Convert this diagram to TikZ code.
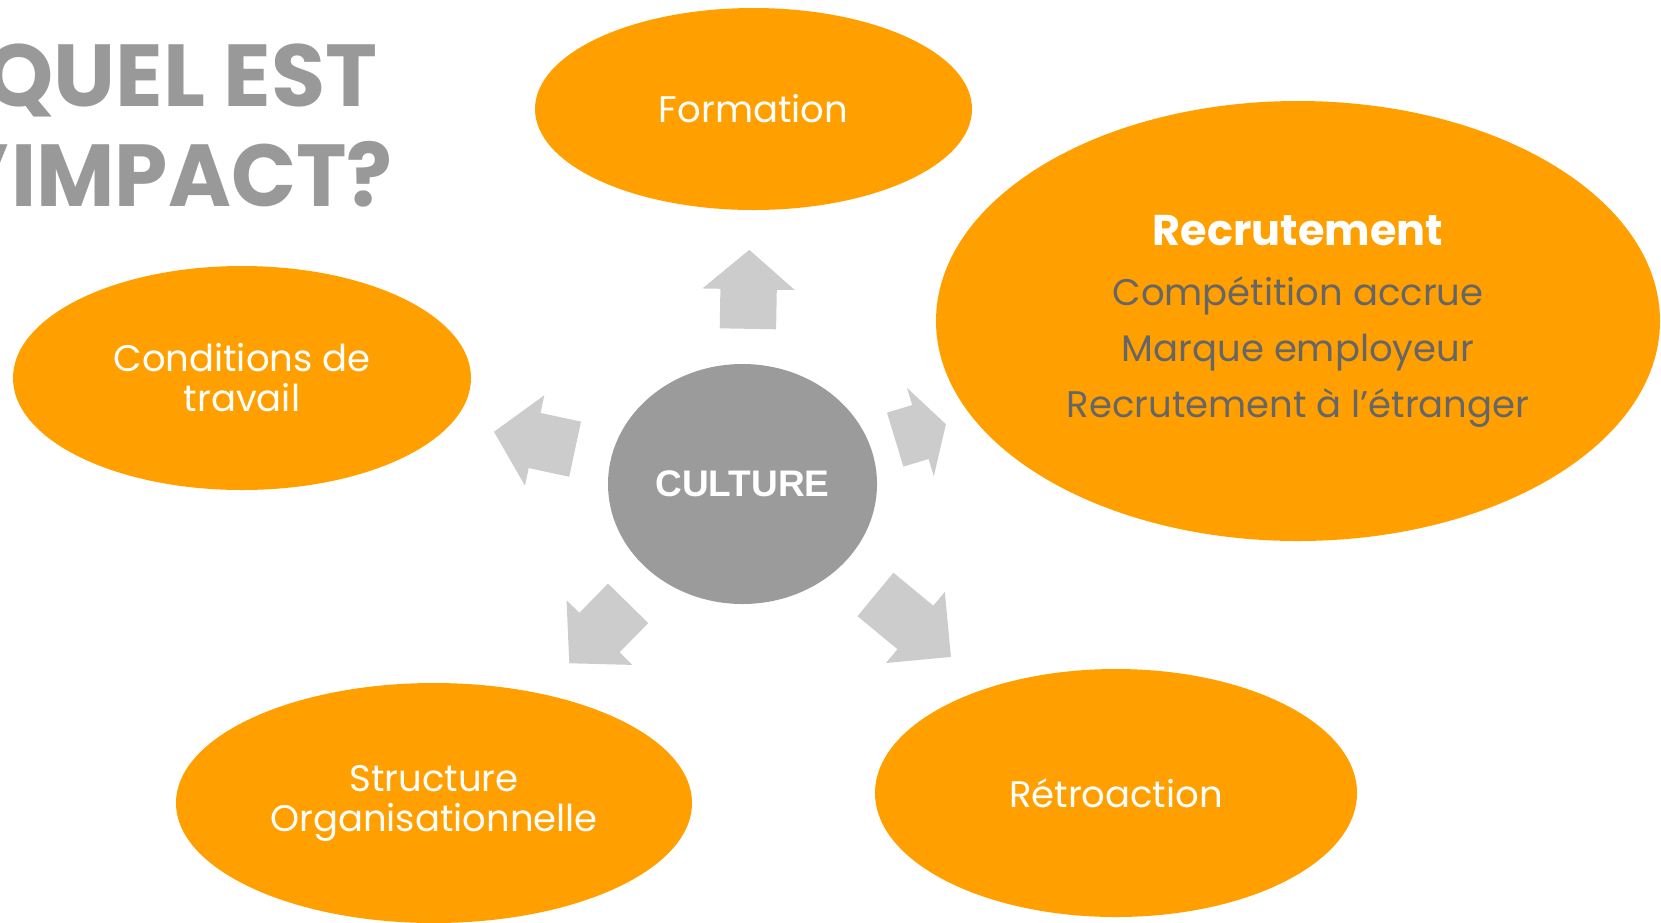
\documentclass[tikz,border=0pt]{standalone}
\usepackage{fontspec}
\usepackage{graphicx}
\setmainfont{Poppins}
\newfontfamily\arialfont{Liberation Sans}
\usetikzlibrary{shapes.geometric, shapes.arrows}

\definecolor{orangefill}{HTML}{FFA000}
\definecolor{arrowgray}{HTML}{CCCCCC}
\definecolor{culturegray}{HTML}{9B9B9B}
\definecolor{titlegray}{HTML}{999999}
\definecolor{itemgray}{HTML}{666666}

\tikzset{
  bubble/.style={ellipse, fill=orangefill, text=white, align=center, inner sep=0pt,
    font=\fontsize{37}{40}\selectfont},
  flow/.style={single arrow, fill=arrowgray, inner xsep=0pt, inner ysep=28pt,
    single arrow head extend=18pt, anchor=tail},
  headline/.style={anchor=base east, text=titlegray, font=\fontsize{88}{88}\selectfont\bfseries},
}

\begin{document}
\begin{tikzpicture}[x=1pt, y=-1pt]
  \useasboundingbox (0,0) rectangle (1661,922);
  \clip (0,0) rectangle (1661,922);
  % Title:
  \node[headline] (titleA) at (381,106) {QUEL EST};
  \node[headline] (titleB) at (396,206.6) {\scalebox{0.97}[1]{L’IMPACT?}};
  % Bubbles:
  \node[bubble, minimum width=437pt, minimum height=202pt] (formation) at (753.5,109) {Formation};
  \node[bubble, minimum width=724pt, minimum height=440pt, text=itemgray,
    font=\fontsize{37}{56}\selectfont] (recrutement) at (1298,321)
    {{\color{white}\fontsize{43}{56}\selectfont\bfseries Recrutement}\\[4pt]
     Compétition accrue\\ Marque employeur\\ Recrutement à l’étranger};
  \node[bubble, minimum width=458pt, minimum height=224pt] (conditions) at (242,378) {Conditions de\\ travail};
  \node[bubble, minimum width=516pt, minimum height=240pt] (structure) at (434,803) {Structure\\ Organisationnelle};
  \node[bubble, minimum width=482pt, minimum height=248pt] (retroaction) at (1116,793) {Rétroaction};
  % Centre:
  \node[ellipse, fill=culturegray, text=white, inner sep=0pt, minimum width=269pt, minimum height=240pt,
    font=\arialfont\fontsize{37}{37}\selectfont\bfseries] (culture) at (742.5,484) {CULTURE};
  % Arrows:
  \node[flow, minimum height=79pt, single arrow tip angle=99, rotate=89] (toformation) at (747.9,329) {};
  \node[flow, minimum height=83pt, single arrow tip angle=96, rotate=167.9] (toconditions) at (575.3,449.2) {};
  \node[flow, minimum height=53pt, single arrow tip angle=120, rotate=16.9] (torecrutement) at (895,439.7) {};
  \node[flow, minimum height=84pt, single arrow tip angle=94, rotate=225.5] (tostructure) at (628.3,603.2) {};
  \node[flow, minimum height=98pt, single arrow tip angle=90, rotate=-39.6] (toretroaction) at (875.3,594.3) {};
\end{tikzpicture}
\end{document}
